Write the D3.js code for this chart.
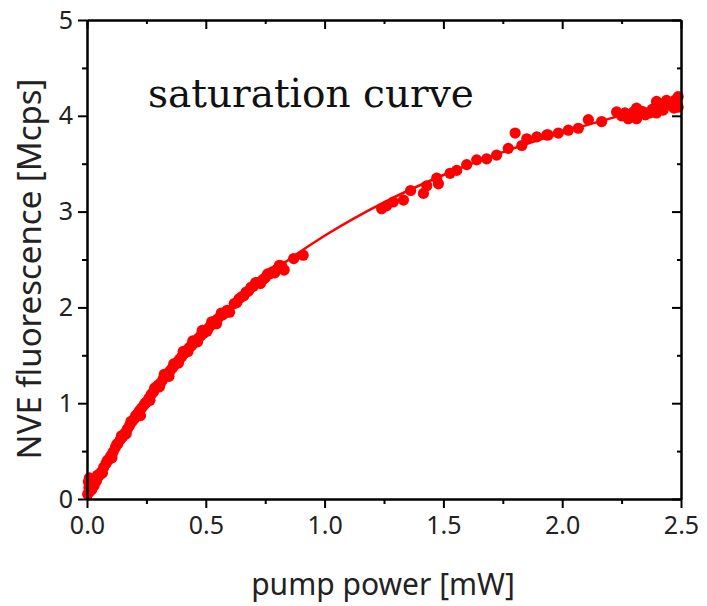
<!DOCTYPE html>
<html>
<head>
<meta charset="utf-8">
<script src="https://cdn.jsdelivr.net/npm/d3@7"></script>
<style>
  body { margin: 0; background: #fff; }
  #chart { width: 707px; height: 606px; }
  .tick text { font-family: "Noto Sans", "Open Sans", sans-serif; }
</style>
</head>
<body>
<div id="chart"></div>
<script>
// measured points: pump power (mW) vs NVE fluorescence (Mcps)
const powerMW = [
  0.003, 0.006, 0.008, 0.010, 0.012, 0.015, 0.02, 0.03, 0.04, 0.05,
  0.06, 0.07, 0.08, 0.09, 0.10, 0.11, 0.12, 0.13, 0.14, 0.15,
  0.16, 0.17, 0.18, 0.19, 0.20, 0.21, 0.22, 0.23, 0.24, 0.25,
  0.26, 0.27, 0.28, 0.29, 0.30, 0.31, 0.32, 0.33, 0.34, 0.35,
  0.36, 0.37, 0.38, 0.39, 0.40, 0.41, 0.42, 0.43, 0.44, 0.45,
  0.46, 0.47, 0.48, 0.49, 0.50, 0.51, 0.52, 0.53, 0.54, 0.55,
  0.57, 0.58, 0.60, 0.62, 0.64, 0.65, 0.66, 0.68, 0.69, 0.70,
  0.72, 0.74, 0.75, 0.77, 0.78, 0.80, 0.82, 0.83, 0.87, 0.91,
  0.045, 0.065, 0.085, 0.105, 0.125, 0.145, 0.165, 0.185, 0.205, 0.225,
  0.245, 0.265, 0.285, 0.305, 0.325, 0.345, 0.365, 0.385, 0.405, 0.425,
  0.445, 0.465, 0.485, 0.505, 0.525, 0.545, 0.565, 0.59, 0.63, 0.67,
  0.71, 0.73, 0.76, 0.79, 0.81,
  1.240, 1.261, 1.289, 1.332, 1.362, 1.416, 1.430, 1.472, 1.479, 1.528,
  1.556, 1.598, 1.640, 1.682, 1.724, 1.773, 1.802, 1.830, 1.851, 1.893,
  1.935, 1.941, 1.984, 2.026, 2.068, 2.110, 2.166, 2.229, 2.250, 2.264,
  2.278, 2.290, 2.300, 2.313, 2.313, 2.330, 2.341, 2.350, 2.369, 2.380,
  2.397, 2.397, 2.410, 2.425, 2.430, 2.439, 2.450, 2.470, 2.474, 2.488, 2.488
];
const fluorMcps = [
  0.05, 0.18, 0.12, 0.22, 0.08, 0.15, 0.10, 0.14, 0.19, 0.24,
  0.28, 0.33, 0.37, 0.41, 0.45, 0.49, 0.54, 0.58, 0.62, 0.65,
  0.69, 0.73, 0.77, 0.81, 0.84, 0.88, 0.92, 0.95, 0.98, 1.01,
  1.05, 1.09, 1.12, 1.16, 1.19, 1.21, 1.25, 1.28, 1.31, 1.34,
  1.37, 1.40, 1.43, 1.46, 1.49, 1.52, 1.55, 1.58, 1.60, 1.63,
  1.65, 1.68, 1.71, 1.73, 1.76, 1.78, 1.81, 1.83, 1.86, 1.88,
  1.92, 1.94, 1.95, 2.04, 2.09, 2.11, 2.12, 2.17, 2.21, 2.22,
  2.26, 2.29, 2.31, 2.35, 2.37, 2.40, 2.43, 2.39, 2.51, 2.545,
  0.25, 0.27, 0.40, 0.43, 0.57, 0.66, 0.68, 0.81, 0.87, 0.87,
  1.00, 1.03, 1.16, 1.17, 1.30, 1.28, 1.41, 1.42, 1.54, 1.54,
  1.65, 1.64, 1.76, 1.75, 1.85, 1.83, 1.94, 1.97, 2.05, 2.16,
  2.26, 2.25, 2.35, 2.36, 2.44,
  3.03, 3.06, 3.10, 3.12, 3.22, 3.19, 3.27, 3.35, 3.29, 3.40,
  3.43, 3.49, 3.54, 3.55, 3.59, 3.66, 3.82, 3.69, 3.76, 3.78,
  3.80, 3.80, 3.82, 3.85, 3.87, 3.96, 3.94, 4.04, 4.00, 4.03,
  3.97, 3.99, 4.04, 4.08, 3.97, 4.05, 4.04, 4.01, 4.03, 4.07,
  4.15, 4.03, 4.10, 4.06, 4.13, 4.16, 4.12, 4.08, 4.16, 4.20, 4.09
];

// saturation fit
const fitPower = [0, 0.05, 0.1, 0.2, 0.3, 0.4, 0.5, 0.6, 0.7, 0.8, 0.9, 1.0, 1.25, 1.5, 1.75, 2.0, 2.25, 2.5];
const fitFluor = [0, 0.235, 0.453, 0.846, 1.189, 1.491, 1.759, 1.999, 2.215, 2.409, 2.586, 2.748, 3.097, 3.382, 3.621, 3.826, 4.004, 4.159];

const xTicks = [0, 0.5, 1.0, 1.5, 2.0, 2.5];
const yTicks = [0, 1, 2, 3, 4, 5];

const width = 707, height = 606;
const margin = { top: 20, right: 26, bottom: 107, left: 87 };
const innerW = width - margin.left - margin.right;
const innerH = height - margin.top - margin.bottom;

const svg = d3.select("#chart").append("svg")
  .attr("width", width)
  .attr("height", height);

const g = svg.append("g").attr("transform", `translate(${margin.left},${margin.top})`);

const x = d3.scaleLinear().domain([0, 2.5]).range([0, innerW]);
const y = d3.scaleLinear().domain([0, 5]).range([innerH, 0]);

const points = powerMW.map((p, i) => ({ p, f: fluorMcps[i] }));
const fit = fitPower.map((p, i) => ({ p, f: fitFluor[i] }));

// fit curve under the markers
g.append("path")
  .datum(fit)
  .attr("fill", "none")
  .attr("stroke", "#ff0000")
  .attr("stroke-width", 2.5)
  .attr("d", d3.line().x(d => x(d.p)).y(d => y(d.f)).curve(d3.curveMonotoneX));

g.selectAll(".dot")
  .data(points)
  .join("circle")
  .attr("class", "dot")
  .attr("cx", d => x(d.p))
  .attr("cy", d => y(d.f))
  .attr("r", 5.6)
  .attr("fill", "#ff0000");

// axes: labels outside on bottom/left, mirrored ticks inside on top/right
function styleAxis(sel) {
  sel.select(".domain").attr("stroke", "#000").attr("stroke-width", 2);
  sel.selectAll(".tick line").attr("stroke", "#000").attr("stroke-width", 2);
  sel.selectAll(".tick text").attr("fill", "#222").attr("font-size", 25);
}

const xMinor = d3.range(0.25, 2.5, 0.5);
const yMinor = d3.range(0.5, 5, 1);

const xAxis = g.append("g").attr("transform", `translate(0,${innerH})`)
  .call(d3.axisBottom(x).tickValues(xTicks).tickFormat(d3.format(".1f")).tickSize(9).tickPadding(8).tickSizeOuter(0));
styleAxis(xAxis);
const xAxisMinor = g.append("g").attr("transform", `translate(0,${innerH})`)
  .call(d3.axisBottom(x).tickValues(xMinor).tickFormat("").tickSize(5).tickSizeOuter(0));
styleAxis(xAxisMinor);

const yAxis = g.append("g")
  .call(d3.axisLeft(y).tickValues(yTicks).tickFormat(d3.format("d")).tickSize(9).tickPadding(5).tickSizeOuter(0));
styleAxis(yAxis);
const yAxisMinor = g.append("g")
  .call(d3.axisLeft(y).tickValues(yMinor).tickFormat("").tickSize(5).tickSizeOuter(0));
styleAxis(yAxisMinor);

const topAxis = g.append("g")
  .call(d3.axisTop(x).tickValues(xTicks).tickFormat("").tickSize(-9).tickSizeOuter(0));
styleAxis(topAxis);
const topMinor = g.append("g")
  .call(d3.axisTop(x).tickValues(xMinor).tickFormat("").tickSize(-4).tickSizeOuter(0));
styleAxis(topMinor);

const rightAxis = g.append("g").attr("transform", `translate(${innerW},0)`)
  .call(d3.axisRight(y).tickValues(yTicks).tickFormat("").tickSize(-9).tickSizeOuter(0));
styleAxis(rightAxis);
const rightMinor = g.append("g").attr("transform", `translate(${innerW},0)`)
  .call(d3.axisRight(y).tickValues(yMinor).tickFormat("").tickSize(-4).tickSizeOuter(0));
styleAxis(rightMinor);

// titles
svg.append("text")
  .attr("x", 383)
  .attr("y", 595)
  .attr("text-anchor", "middle")
  .attr("font-family", "Noto Sans, sans-serif")
  .attr("font-size", 30)
  .attr("fill", "#222")
  .text("pump power [mW]");

svg.append("text")
  .attr("transform", `translate(41,269) rotate(-90)`)
  .attr("text-anchor", "middle")
  .attr("font-family", "Noto Sans, sans-serif")
  .attr("font-size", 33)
  .attr("fill", "#222")
  .text("NVE fluorescence [Mcps]");

g.append("text")
  .attr("x", 61)
  .attr("y", 87)
  .attr("font-family", "DejaVu Serif, serif")
  .attr("font-size", 39)
  .attr("fill", "#111")
  .text("saturation curve");
</script>
</body>
</html>
